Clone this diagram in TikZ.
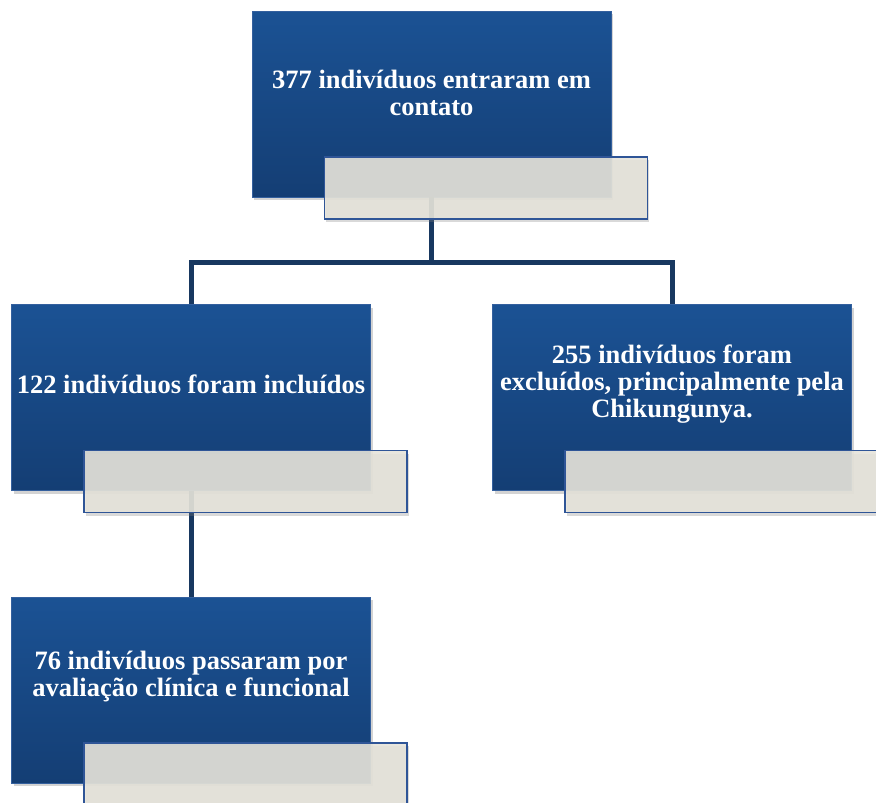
\documentclass[tikz,border=0pt]{standalone}
\usepackage{fontspec}
\setmainfont{Liberation Serif}
\usetikzlibrary{shadows}

\definecolor{boxTop}{RGB}{27,82,148}
\definecolor{boxBottom}{RGB}{20,62,116}
\definecolor{boxEdge}{RGB}{52,96,158}
\definecolor{tabFill}{RGB}{229,227,218}
\definecolor{tabEdge}{RGB}{47,85,151}
\definecolor{linkColor}{RGB}{24,56,96}

\begin{document}
\begin{tikzpicture}[x = 1pt, y = -1pt, font=\bfseries]
	\tikzstyle{boxStyle}=[shape = rectangle, minimum width = 359pt, minimum height = 186pt, inner sep = 0pt, top color = boxTop, bottom color = boxBottom, draw = boxEdge, line width = 0.8pt, drop shadow = {shadow xshift = 2pt, shadow yshift = -3pt, opacity = 0.35}]
	\tikzstyle{tabStyle}=[shape = rectangle, minimum width = 323pt, minimum height = 62pt, inner sep = 0pt, fill = tabFill, fill opacity = 0.9, draw = tabEdge, line width = 1.5pt, drop shadow = {shadow xshift = 2pt, shadow yshift = -3pt, opacity = 0.3}]
	\tikzstyle{textStyle}=[align = center, text = white, inner sep = 0pt, font = \fontsize{26.5}{27}\selectfont\bfseries]
	\tikzstyle{linkStyle}=[draw = linkColor, line width = 5pt]
	\clip (0, 0) rectangle (876, 803);
	% blocks
	\node[boxStyle] (contato) at (431.5, 104) {};
	\node[boxStyle] (incluidos) at (191, 397.5) {};
	\node[boxStyle] (excluidos) at (672, 397.5) {};
	\node[boxStyle] (avaliacao) at (191, 690) {};
	\node[textStyle] (contatoText) at ([shift = {(0, 82)}]contato.north) {377 indivíduos entraram em\\contato};
	\node[textStyle] (incluidosText) at ([shift = {(0, 80)}]incluidos.north) {122 indivíduos foram incluídos};
	\node[textStyle] (excluidosText) at ([shift = {(0, 80)}]excluidos.north) {255 indivíduos foram\\excluídos, principalmente pela\\Chikungunya.};
	\node[textStyle] (avaliacaoText) at ([shift = {(0, 80)}]avaliacao.north) {76 indivíduos passaram por\\avaliação clínica e funcional};
	% connectors
	\coordinate (fork) at (431.5, 262);
	\draw[linkStyle] (contato.south) -- (fork) -| (incluidos.north);
	\draw[linkStyle] (fork) -| (excluidos.north);
	\draw[linkStyle] (incluidos.south) -- (avaliacao.north);
	% label tabs
	\node[tabStyle, anchor = north west] (contatoTab) at ([shift = {(72, -41)}]contato.south west) {};
	\node[tabStyle, anchor = north west] (incluidosTab) at ([shift = {(72, -41)}]incluidos.south west) {};
	\node[tabStyle, anchor = north west] (excluidosTab) at ([shift = {(72, -41)}]excluidos.south west) {};
	\node[tabStyle, anchor = north west] (avaliacaoTab) at ([shift = {(72, -41)}]avaliacao.south west) {};
\end{tikzpicture}
\end{document}
